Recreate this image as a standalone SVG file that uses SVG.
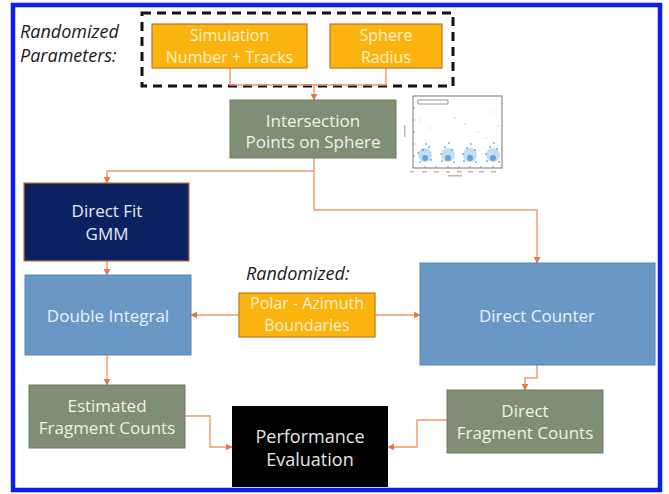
<svg xmlns="http://www.w3.org/2000/svg" width="669" height="494" viewBox="0 0 669 494">
  <style>
    .lbl { font-family: "Open Sans", "Noto Sans", sans-serif; font-size: 16px; text-anchor: middle; }
    .note { font-family: "Open Sans", "Noto Sans", sans-serif; font-size: 18px; font-style: italic; fill: #1a1a1a; }
    .param rect { fill: #fbb40f; stroke: #c0771c; stroke-width: 1.2; }
    .param text { fill: #fdf1cc; }
    .grey rect { fill: #7f8e74; stroke: #6c7a62; stroke-width: 1; }
    .grey text { fill: #eef2e8; }
    .navy rect { fill: #0c2260; stroke: #c07040; stroke-width: 1.2; }
    .navy text { fill: #e4eaf6; }
    .steel rect { fill: #6a98c5; stroke: #5a86b2; stroke-width: 1; }
    .steel text { fill: #eaf1fa; }
    .black rect { fill: #000000; }
    .black text { fill: #e6e6e6; }
    .wire { fill: none; stroke: #f09a6a; stroke-width: 1.4; }
    .dot { fill: #3d8fd0; }
  </style>
  <defs>
    <marker id="head" viewBox="0 0 10 10" refX="9" refY="5" markerWidth="5" markerHeight="5" orient="auto">
      <path d="M0,0 L10,5 L0,10 z" fill="#e8784a"/>
    </marker>
  </defs>

  <rect width="669" height="494" fill="#ffffff"/>
  <!-- outer frame -->
  <rect x="13" y="5" width="647" height="485" fill="none" stroke="#0a1ef0" stroke-width="4.5"/>

  <!-- captions -->
  <text class="note" x="20" y="38">Randomized</text>
  <text class="note" x="20" y="62">Parameters:</text>
  <text class="note" x="246" y="280">Randomized:</text>

  <!-- dashed grouping of randomized inputs -->
  <rect x="142" y="13" width="311" height="73" fill="none" stroke="#111111" stroke-width="3" stroke-dasharray="9,6"/>

  <!-- connectors -->
  <g id="connectors">
    <path class="wire" d="M230,68 V85 H386 V68"/>
    <path class="wire" d="M314,85 V100" marker-end="url(#head)"/>
    <path class="wire" d="M314,158 V171 H107 V183" marker-end="url(#head)"/>
    <path class="wire" d="M314,171 V210 H537 V263" marker-end="url(#head)"/>
    <path class="wire" d="M107,261 V275" marker-end="url(#head)"/>
    <path class="wire" d="M239,315 H191" marker-end="url(#head)"/>
    <path class="wire" d="M375,315 H420" marker-end="url(#head)"/>
    <path class="wire" d="M107,355 V385" marker-end="url(#head)"/>
    <path class="wire" d="M537,365 V378 H525 V390" marker-end="url(#head)"/>
    <path class="wire" d="M185,416 H210 V447 H232" marker-end="url(#head)"/>
    <path class="wire" d="M447,420 H417 V447 H388" marker-end="url(#head)"/>
  </g>

  <g id="simulation" class="param">
    <rect x="152" y="24" width="155" height="44"/>
    <text class="lbl" x="229.5" y="41">Simulation</text>
    <text class="lbl" x="229.5" y="63">Number + Tracks</text>
  </g>

  <g id="sphere-radius" class="param">
    <rect x="330" y="24" width="112" height="44"/>
    <text class="lbl" x="386" y="41">Sphere</text>
    <text class="lbl" x="386" y="63">Radius</text>
  </g>

  <g id="intersection" class="grey">
    <rect x="230" y="100" width="166" height="58"/>
    <text class="lbl" x="313" y="127" style="font-size:17px">Intersection</text>
    <text class="lbl" x="313" y="148" style="font-size:17px">Points on Sphere</text>
  </g>

  <!-- small scatter plot of intersection points -->
  <g id="scatter-plot">
    <rect x="413" y="96" width="89" height="72" fill="#ffffff" stroke="#555555" stroke-width="0.8"/>
    <rect x="418" y="100" width="30" height="4" fill="#ffffff" stroke="#555555" stroke-width="0.6"/>
    <g stroke="#666666" stroke-width="0.6">
      <path d="M425,168 v-2 M436,168 v-2 M448,168 v-2 M459,168 v-2 M470,168 v-2 M481,168 v-2 M493,168 v-2"/>
      <path d="M413,108 h2 M413,120 h2 M413,132 h2 M413,144 h2 M413,156 h2"/>
    </g>
    <g fill="#bbbbbb">
      <rect x="410" y="171" width="4" height="1.5"/><rect x="422" y="171" width="5" height="1.5"/>
      <rect x="434" y="171" width="5" height="1.5"/><rect x="446" y="171" width="4" height="1.5"/>
      <rect x="457" y="171" width="5" height="1.5"/><rect x="468" y="171" width="5" height="1.5"/>
      <rect x="479" y="171" width="5" height="1.5"/><rect x="491" y="171" width="5" height="1.5"/>
      <rect x="448" y="175" width="14" height="1.5"/>
      <rect x="404" y="125" width="1.5" height="12"/>
    </g>
    <g class="dot" opacity="0.3">
      <circle cx="425" cy="155" r="7"/><circle cx="448" cy="155" r="7"/>
      <circle cx="470" cy="155" r="7"/><circle cx="493" cy="155" r="7"/>
    </g>
    <g class="dot" opacity="0.7">
      <circle cx="425" cy="158" r="3"/><circle cx="448" cy="158" r="3"/>
      <circle cx="470" cy="158" r="3"/><circle cx="493" cy="158" r="3"/>
      <circle cx="423" cy="150" r="1"/><circle cx="429" cy="147" r="1"/><circle cx="420" cy="162" r="1"/>
      <circle cx="431" cy="160" r="1"/><circle cx="426" cy="144" r="0.9"/><circle cx="418" cy="153" r="0.9"/>
      <circle cx="445" cy="147" r="1"/><circle cx="452" cy="150" r="1"/><circle cx="442" cy="161" r="1"/>
      <circle cx="454" cy="162" r="1"/><circle cx="449" cy="143" r="0.9"/><circle cx="441" cy="154" r="0.9"/>
      <circle cx="467" cy="148" r="1"/><circle cx="475" cy="150" r="1"/><circle cx="464" cy="161" r="1"/>
      <circle cx="476" cy="162" r="1"/><circle cx="471" cy="144" r="0.9"/><circle cx="463" cy="154" r="0.9"/>
      <circle cx="490" cy="147" r="1"/><circle cx="497" cy="149" r="1"/><circle cx="487" cy="161" r="1"/>
      <circle cx="499" cy="162" r="1"/><circle cx="494" cy="143" r="0.9"/><circle cx="486" cy="154" r="0.9"/>
    </g>
    <g fill="#9abfdc" opacity="0.7">
      <circle cx="430" cy="128" r="0.7"/><circle cx="455" cy="118" r="0.7"/><circle cx="478" cy="132" r="0.7"/>
      <circle cx="493" cy="112" r="0.7"/><circle cx="440" cy="136" r="0.7"/><circle cx="465" cy="124" r="0.7"/>
      <circle cx="420" cy="120" r="0.7"/><circle cx="486" cy="138" r="0.7"/><circle cx="498" cy="126" r="0.7"/>
    </g>
  </g>

  <g id="direct-fit" class="navy">
    <rect x="24" y="183" width="165" height="78"/>
    <text class="lbl" x="107" y="217" style="font-size:17px">Direct Fit</text>
    <text class="lbl" x="107" y="240" style="font-size:17px">GMM</text>
  </g>

  <g id="double-integral" class="steel">
    <rect x="25" y="275" width="166" height="80"/>
    <text class="lbl" x="108" y="322" style="font-size:17px">Double Integral</text>
  </g>

  <g id="polar-azimuth" class="param">
    <rect x="239" y="293" width="136" height="44"/>
    <text class="lbl" x="307" y="309">Polar - Azimuth</text>
    <text class="lbl" x="307" y="331">Boundaries</text>
  </g>

  <g id="direct-counter" class="steel">
    <rect x="420" y="263" width="235" height="102"/>
    <text class="lbl" x="537" y="322" style="font-size:17px">Direct Counter</text>
  </g>

  <g id="estimated-counts" class="grey">
    <rect x="29" y="385" width="156" height="63"/>
    <text class="lbl" x="107" y="412" style="font-size:17px">Estimated</text>
    <text class="lbl" x="107" y="434" style="font-size:17px">Fragment Counts</text>
  </g>

  <g id="direct-counts" class="grey">
    <rect x="447" y="390" width="156" height="63"/>
    <text class="lbl" x="525" y="417" style="font-size:17px">Direct</text>
    <text class="lbl" x="525" y="439" style="font-size:17px">Fragment Counts</text>
  </g>

  <g id="performance" class="black">
    <rect x="232" y="406" width="156" height="81"/>
    <text class="lbl" x="310" y="443" style="font-size:18px">Performance</text>
    <text class="lbl" x="310" y="466" style="font-size:18px">Evaluation</text>
  </g>
</svg>
